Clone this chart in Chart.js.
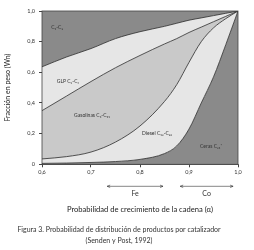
<!DOCTYPE html>
<html>
<head>
<meta charset="utf-8">
<script src="https://cdn.jsdelivr.net/npm/chart.js@4/dist/chart.umd.min.js"></script>
<style>
  html, body { margin: 0; padding: 0; background: #fff; }
  #wrap { width: 254px; height: 250px; }
</style>
</head>
<body>
<div id="wrap"><canvas id="chart" width="254" height="250"></canvas></div>
<script>
/* ---- data: cumulative weight fraction boundaries ---- */
const alpha = [0.6, 0.65, 0.7, 0.75, 0.8, 0.85, 0.875, 0.9, 0.925, 0.95, 0.975, 1.0];
const c2Limit = [0.636, 0.70, 0.755, 0.82, 0.865, 0.90, 0.92, 0.94, 0.955, 0.97, 0.985, 1.0];   // C1-C2 above
const c4Limit = [0.35, 0.445, 0.54, 0.63, 0.71, 0.785, 0.82, 0.86, 0.895, 0.93, 0.965, 1.0];    // GLP above
const c11Limit = [0.035, 0.05, 0.08, 0.145, 0.25, 0.41, 0.52, 0.665, 0.80, 0.89, 0.95, 1.0];    // Gasolinas above
const c20Limit = [0.006, 0.008, 0.012, 0.018, 0.032, 0.07, 0.12, 0.23, 0.40, 0.57, 0.78, 1.0];  // Diesel above, Ceras below
const xTicks = [0.6, 0.7, 0.8, 0.9, 1.0];
const yTicks = [0, 0.2, 0.4, 0.6, 0.8, 1.0];

const DARK = '#8a8a8a';
const LIGHT = '#e6e6e6';
const MID = '#c9c9c9';
const LINE = '#2b2b2b';
const FONT = 'Lato, "Open Sans", sans-serif';

const pts = (vals) => alpha.map((a, i) => ({ x: a, y: vals[i] }));
const comma = (v) => (v === 0 ? '0' : v.toFixed(1).replace('.', ','));

const boundary = (vals, fill, color, width) => ({
  data: pts(vals),
  fill,
  backgroundColor: color,
  borderColor: LINE,
  borderWidth: width,
  pointRadius: 0,
  cubicInterpolationMode: 'monotone',
});

/* ---- labels inside the regions, plus Fe / Co ranges under the axis ---- */
const regionLabels = [
  { text: 'C₁-C₂', x: 0.631, y: 0.89 },
  { text: 'GLP C₃-C₄', x: 0.653, y: 0.54 },
  { text: 'Gasolinas C₅-C₁₁', x: 0.702, y: 0.318 },
  { text: 'Diesel C₁₂-C₂₀', x: 0.835, y: 0.199 },
  { text: 'Ceras C₂₁⁺', x: 0.945, y: 0.119 },
];
const catalystRanges = [
  { text: 'Fe', from: 0.733, to: 0.847 },
  { text: 'Co', from: 0.882, to: 0.99 },
];

const extras = {
  id: 'extras',
  afterDatasetsDraw(chart) {
    const { ctx, chartArea: a, scales: { x, y } } = chart;
    ctx.save();
    // frame around plot
    ctx.strokeStyle = '#444';
    ctx.lineWidth = 0.8;
    ctx.strokeRect(a.left, a.top, a.right - a.left, a.bottom - a.top);

    ctx.fillStyle = '#333';
    ctx.font = `5px ${FONT}`;
    ctx.textAlign = 'center';
    ctx.textBaseline = 'middle';
    regionLabels.forEach((l) => ctx.fillText(l.text, x.getPixelForValue(l.x), y.getPixelForValue(l.y)));

    // catalyst ranges with arrows
    const ay = a.bottom + 22;
    ctx.strokeStyle = '#333';
    ctx.lineWidth = 0.6;
    ctx.font = `7px ${FONT}`;
    catalystRanges.forEach((r) => {
      const x0 = x.getPixelForValue(r.from);
      const x1 = x.getPixelForValue(r.to);
      ctx.beginPath();
      ctx.moveTo(x0, ay); ctx.lineTo(x1, ay);
      ctx.moveTo(x0 + 3, ay - 1.2); ctx.lineTo(x0, ay); ctx.lineTo(x0 + 3, ay + 1.2);
      ctx.moveTo(x1 - 3, ay - 1.2); ctx.lineTo(x1, ay); ctx.lineTo(x1 - 3, ay + 1.2);
      ctx.stroke();
      ctx.fillText(r.text, (x0 + x1) / 2, ay + 7);
    });
    ctx.restore();
  },
};

new Chart(document.getElementById('chart'), {
  type: 'line',
  data: {
    datasets: [
      boundary(c2Limit, 'end', DARK, 0.8),
      boundary(c4Limit, '-1', LIGHT, 0.8),
      boundary(c11Limit, '-1', MID, 0.8),
      boundary(c20Limit, '-1', LIGHT, 0.8),
      boundary(c20Limit, 'start', DARK, 0),
    ],
  },
  options: {
    responsive: false,
    animation: false,
    layout: { padding: { top: 11, right: 16, left: 0, bottom: 2 } },
    plugins: {
      legend: { display: false },
      tooltip: { enabled: false },
      title: {
        display: true,
        position: 'bottom',
        text: ['Figura 3. Probabilidad de distribución de productos por catalizador', '(Senden y Post, 1992)'],
        color: '#333',
        font: { family: FONT, size: 7, weight: 'normal', lineHeight: 1.55 },
        padding: { top: 4, bottom: 2 },
      },
    },
    scales: {
      x: {
        type: 'linear',
        min: 0.6,
        max: 1.0,
        afterBuildTicks: (s) => { s.ticks = xTicks.map((v) => ({ value: v })); },
        afterFit: (s) => { s.height = 56; },
        ticks: { callback: comma, font: { family: FONT, size: 5.5 }, color: '#333', padding: 2, maxRotation: 0 },
        grid: { drawOnChartArea: false, drawTicks: true, tickLength: 3, color: '#444' },
        border: { color: '#444', width: 0.8 },
        title: {
          display: true,
          text: 'Probabilidad de crecimiento de la cadena (α)',
          color: '#222',
          font: { family: FONT, size: 7.6 },
          padding: { top: 0, bottom: 6 },
        },
      },
      y: {
        min: 0,
        max: 1.0,
        afterBuildTicks: (s) => { s.ticks = yTicks.map((v) => ({ value: v })); },
        afterFit: (s) => { s.width = 42; },
        ticks: { callback: comma, font: { family: FONT, size: 5.5 }, color: '#333', padding: 4 },
        grid: { drawOnChartArea: false, drawTicks: true, tickLength: 3, color: '#444' },
        border: { color: '#444', width: 0.8 },
        title: {
          display: true,
          text: 'Fracción en peso (Wn)',
          color: '#222',
          font: { family: FONT, size: 7 },
          padding: { top: 4, bottom: 0 },
        },
      },
    },
  },
  plugins: [extras],
});
</script>
</body>
</html>
